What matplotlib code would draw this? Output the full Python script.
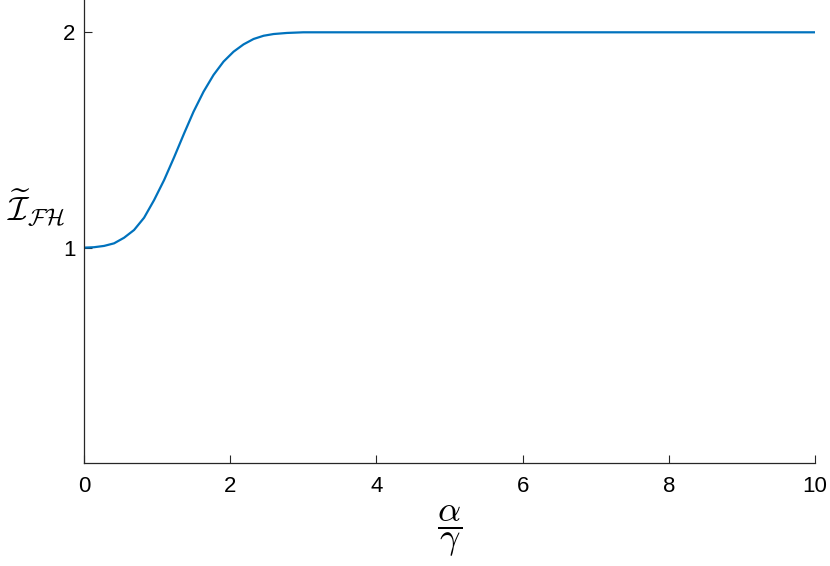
import matplotlib
matplotlib.use("Agg")
import matplotlib.pyplot as plt

# ===== DATA =====
alpha_over_gamma = [0.0, 0.137, 0.274, 0.411, 0.548, 0.685, 0.822, 0.959, 1.096,
                    1.233, 1.370, 1.498, 1.635, 1.772, 1.909, 2.046, 2.183, 2.320,
                    2.457, 2.594, 2.776, 3.0, 4.0, 5.0, 6.0, 7.0, 8.0, 9.0, 10.0]
I_FH = [1.000, 1.002, 1.008, 1.020, 1.046, 1.082, 1.139, 1.221, 1.314,
        1.420, 1.531, 1.631, 1.724, 1.802, 1.864, 1.910, 1.944, 1.969,
        1.984, 1.992, 1.997, 2.0, 2.0, 2.0, 2.0, 2.0, 2.0, 2.0, 2.0]

x_ticks = [0, 2, 4, 6, 8, 10]
y_ticks = [1, 2]

# ===== STYLE =====
plt.rcParams['font.family'] = ['Liberation Sans', 'DejaVu Sans']
plt.rcParams['mathtext.fontset'] = 'cm'

fig = plt.figure(figsize=(8.3, 5.66), dpi=100)
ax = fig.add_axes([84/830, 103/566, (815-84)/830, 463/566])

ax.plot(alpha_over_gamma, I_FH, color='#0072BD', linewidth=1.6,
        solid_joinstyle='round')

ax.set_xlim(0, 10)
ax.set_ylim(0, 2.15)
ax.set_xticks(x_ticks)
ax.set_yticks(y_ticks)

for side in ['top', 'right']:
    ax.spines[side].set_visible(False)
for side in ['left', 'bottom']:
    ax.spines[side].set_color('#262626')
    ax.spines[side].set_linewidth(0.9)

ax.tick_params(direction='in', length=6, width=0.8, colors='#262626',
               labelsize=16, labelcolor='black')
ax.tick_params(axis='x', pad=9)
ax.tick_params(axis='y', pad=6)

ax.set_xlabel(r'$\dfrac{\alpha}{\gamma}$', fontsize=26, labelpad=5)
ax.set_ylabel(r'$\widetilde{\mathcal{I}}_{\mathcal{FH}}$', fontsize=24,
              rotation=0)
ax.yaxis.set_label_coords(-0.065, 0.505)

fig.savefig("out.png", dpi=100)
